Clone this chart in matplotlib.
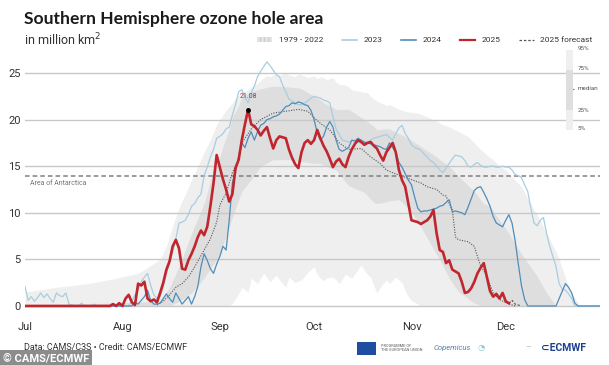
import matplotlib.pyplot as plt
import numpy as np
from matplotlib.lines import Line2D
from matplotlib.patches import Patch, Rectangle

plt.rcParams['font.family'] = ['Roboto', 'DejaVu Sans']

# days counted from 1 July, area in million km2
month_days = [0, 31, 62, 92, 123, 153]
month_labels = ['Jul', 'Aug', 'Sep', 'Oct', 'Nov', 'Dec']
antarctica_area = 14.0

# 1979-2022 percentiles
band_days = [0, 10, 20, 28, 36, 43, 45, 46, 48, 49, 51, 53, 56, 57, 59, 60, 61, 62, 63, 64, 65, 66, 67, 68, 69,
             71, 72, 74, 75, 76, 77, 78, 79, 80, 81, 82, 83, 84, 86, 87, 88, 90, 92, 93, 94, 95, 96, 98, 99, 100,
             102, 103, 104, 107, 108, 109, 110, 111, 112, 113, 114, 115, 116, 118, 119, 120, 121, 122, 123, 125,
             126, 130, 131, 132, 135, 138, 141, 143, 145, 146, 148, 149, 151, 153, 154, 158, 162, 163, 166, 169,
             170, 173, 176, 177, 183]
p95 = [1.5, 2.0, 2.4, 2.9, 3.5, 5.0, 6.4, 7.5, 9.6, 10.5, 12.0, 13.5, 15.7, 16.5, 17.8, 18.6, 19.5, 20.0, 20.5,
       21.0, 21.4, 21.8, 22.3, 22.6, 22.9, 23.2, 23.5, 23.9, 24.2, 24.5, 24.7, 24.6, 24.8, 24.9, 24.7, 24.9, 25.0,
       24.8, 24.6, 24.9, 24.8, 24.5, 24.7, 24.4, 24.6, 24.5, 24.3, 24.5, 24.0, 23.8, 23.7, 23.5, 23.2, 23.0, 22.9,
       22.9, 22.5, 22.2, 22.0, 21.8, 21.7, 21.5, 21.6, 21.3, 21.1, 21.0, 20.9, 20.8, 20.8, 20.7, 20.6, 20.0, 19.9,
       19.6, 19.2, 18.7, 18.2, 17.5, 16.8, 16.5, 15.9, 15.7, 15.0, 14.6, 14.2, 12.8, 10.3, 9.8, 7.8, 5.8, 5.0, 2.0,
       0.3, 0.0, 0.0]
p05 = [0, 0, 0, 0, 0, 0, 0, 0, 0, 0, 0, 0, 0, 0, 0, 0, 0, 0, 0, 0, 0, 0.3, 0.8, 1.3, 2.0, 1.5, 3.0, 2.4, 3.0, 3.5,
       3.0, 2.6, 3.0, 3.3, 2.8, 2.4, 2.0, 3.1, 2.5, 2.7, 2.8, 3.6, 4.2, 3.4, 3.0, 2.7, 3.0, 3.1, 2.8, 2.4, 3.4, 3.2,
       3.0, 4.4, 3.8, 3.4, 3.1, 2.2, 1.4, 2.0, 2.4, 2.8, 2.4, 3.1, 2.8, 2.5, 1.6, 1.0, 0.6, 0.2, 0, 0, 0, 0, 0, 0,
       0, 0, 0, 0, 0, 0, 0, 0, 0, 0, 0, 0, 0, 0, 0, 0, 0, 0, 0]
inner_days = [0, 43, 46, 49, 53, 57, 60, 62, 63, 65, 66, 68, 69, 72, 74, 75, 79, 84, 87, 88, 92, 94, 95, 99, 103,
              108, 111, 112, 114, 116, 119, 122, 126, 131, 132, 135, 138, 143, 145, 146, 148, 151, 154, 158, 163,
              166, 169, 183]
p75 = [0, 0.5, 2.0, 4.2, 7.8, 11.0, 14.6, 16.0, 17.1, 19.0, 20.3, 21.5, 22.5, 23.0, 23.2, 23.3, 23.6, 23.5, 23.4,
       23.3, 22.5, 22.1, 21.8, 21.1, 21.1, 20.0, 19.3, 18.9, 19.0, 19.0, 18.5, 18.0, 17.1, 16.0, 15.7, 15.0, 13.9,
       12.3, 11.4, 11.0, 10.7, 9.2, 7.8, 5.6, 3.2, 1.4, 0, 0]
p25 = [0, 0, 0, 0.5, 1.4, 3.0, 4.5, 5.6, 6.5, 8.5, 9.5, 11.4, 12.3, 13.6, 14.5, 15.0, 15.7, 15.7, 15.5, 15.5,
       15.3, 15.3, 15.1, 14.6, 12.9, 12.2, 11.1, 11.0, 11.1, 11.3, 11.4, 10.5, 8.5, 5.5, 5.0, 3.0, 1.5, 0.3, 0.1,
       0, 0, 0, 0, 0, 0, 0, 0, 0]
median_days = [42, 44, 46, 48, 50, 52, 54, 56, 58, 59, 61, 62, 63, 64, 66, 68, 69, 72, 75, 79, 83, 87, 90, 92, 94,
               97, 100, 103, 107, 110, 113, 115, 117, 121, 126, 128, 131, 133, 134, 135, 136, 137, 138, 141, 143,
               144, 145, 147, 149, 151, 154, 156]
median = [0.1, 0.5, 1.2, 2.0, 2.4, 3.1, 4.2, 5.4, 6.6, 7.2, 9.0, 10.8, 11.5, 12.1, 14.3, 15.8, 17.5, 19.0, 20.0,
          20.7, 20.9, 21.1, 20.9, 20.2, 19.6, 18.9, 17.5, 16.8, 16.9, 16.0, 15.3, 14.6, 14.3, 13.8, 13.2, 12.8, 12.5,
          11.9, 11.8, 11.0, 10.3, 7.4, 7.1, 6.9, 6.4, 5.3, 4.3, 3.2, 1.4, 0.7, 0.2, 0.0]

days_2023 = list(range(0, 24)) + [33] + list(range(34, 176)) + [183]
area_2023 = [2.1, 0.6, 1.0, 0.5, 0.9, 1.4, 0.9, 1.3, 0.8, 0.4, 1.4, 1.1, 1.0, 1.4, 0.2, 0.1, 0, 0, 0.3, 0, 0, 0,
             0.2, 0,
             0,
             0.5, 1.2, 1.7, 2.6, 3.1, 3.5, 2.2, 1.2, 0.8, 1.0, 2.0, 3.5, 4.5, 5.8, 7.2, 8.9, 9.0, 9.2, 9.8, 10.7,
             11.0, 11.6, 12.0, 14.0, 14.9, 16.0, 16.8, 18.0, 18.2, 18.5, 19.0, 19.2, 20.5, 21.6, 23.0, 23.2, 22.4,
             21.8, 22.9, 23.6, 24.6, 25.2, 25.7, 26.2, 25.8, 25.3, 24.8, 24.6, 23.7, 23.0, 22.2, 22.0, 21.8, 21.6,
             21.6, 21.8, 22.0, 22.3, 22.5, 22.4, 22.3, 22.1, 22.0, 21.8, 20.3, 19.0, 18.4, 17.8, 17.7, 17.6, 17.7,
             17.8, 17.6, 17.5, 17.5, 17.6, 17.8, 18.0, 18.1, 18.2, 18.3, 18.4, 18.1, 17.8, 18.5, 19.1, 19.4, 18.5,
             18.0, 17.3, 17.0, 16.9, 16.7, 16.3, 16.0, 15.6, 15.4, 15.0, 14.6, 14.3, 14.8, 15.3, 15.8, 16.2, 16.1,
             16.0, 15.6, 15.0, 14.9, 15.2, 15.4, 15.1, 14.9, 14.9, 15.0, 15.0, 14.9, 14.9, 15.0, 14.9, 14.9, 14.6,
             14.1, 14.0, 13.8, 13.0, 12.3, 10.5, 8.9, 8.6, 9.2, 9.5, 7.8, 6.4, 5.3, 4.2, 2.4, 1.8, 1.7, 1.3, 0.8, 0,
             0]

days_2024 = [0] + list(range(34, 161)) + list(range(169, 177)) + [183]
area_2024 = [0,
             0, 0.4, 0.2, 0.6, 1.0, 1.7, 0.6, 0.2, 0.2, 0.3, 0.8, 1.3, 0.8, 0.4, 1.4, 0.8, 0.2, 0.6, 1.0, 0.2, 1.0,
             2.1, 4.2, 5.6, 4.9, 4.0, 3.5, 4.5, 5.3, 6.4, 6.0, 9.2, 13.2, 14.5, 16.0, 17.5, 17.0, 18.0, 18.7, 17.8,
             18.7, 19.4, 19.6, 20.0, 20.1, 20.3, 20.4, 20.6, 21.0, 21.4, 21.5, 21.8, 21.7, 21.9, 21.8, 21.6, 21.5,
             21.0, 20.0, 18.6, 17.8, 18.2, 19.2, 19.8, 19.2, 17.8, 16.8, 16.6, 16.8, 17.0, 17.8, 17.7, 18.0, 17.8,
             17.6, 17.5, 17.4, 17.3, 17.2, 17.1, 16.9, 16.8, 17.5, 17.0, 16.5, 15.4, 14.9, 14.2, 13.5, 13.0, 11.7,
             10.5, 10.1, 10.2, 10.2, 10.3, 10.4, 10.5, 10.7, 10.8, 11.1, 11.4, 10.1, 10.2, 10.1, 10.0, 9.8, 10.6,
             11.5, 12.4, 12.7, 12.8, 12.2, 11.5, 10.7, 9.6, 8.9, 8.7, 8.5, 9.2, 9.8, 8.9, 7.0, 4.5, 2.2, 0.7, 0,
             0, 0.8, 1.6, 2.4, 2.0, 1.4, 0.3, 0,
             0]

days_2025 = [0] + list(range(27, 155))
area_2025 = [0,
             0, 0.2, 0, 0.3, 0, 0.8, 1.2, 0.4, 0.1, 2.4, 2.2, 2.6, 0.8, 0.5, 0.7, 0.4, 1.4, 2.5, 3.9, 4.8, 6.4, 7.1,
             6.2, 4.0, 3.9, 4.9, 5.6, 6.4, 7.4, 8.1, 7.6, 8.5, 10.7, 13.2, 16.2, 14.9, 13.6, 12.5, 11.2, 12.0, 14.8,
             15.7, 17.8, 19.5, 21.08, 19.5, 19.3, 18.9, 18.3, 18.8, 19.2, 18.0, 16.9, 17.8, 18.2, 18.1, 18.0, 16.8,
             15.9, 15.2, 14.8, 16.5, 17.5, 17.8, 17.4, 17.8, 18.9, 18.0, 17.2, 16.6, 15.8, 14.9, 15.5, 15.8, 15.2,
             14.9, 16.0, 16.8, 17.4, 17.8, 17.6, 17.3, 17.5, 17.6, 17.2, 16.9, 16.2, 15.6, 16.5, 17.0, 17.5, 16.5,
             14.6, 13.5, 12.8, 11.0, 9.2, 9.1, 9.0, 8.8, 9.0, 9.2, 9.6, 10.3, 7.8, 6.0, 5.8, 4.6, 4.9, 3.9, 3.7, 3.5,
             2.6, 1.4, 1.5, 1.9, 2.6, 3.5, 4.1, 4.6, 3.1, 1.6, 1.0, 1.3, 0.8, 1.4, 0.5, 0.3]
peak_day, peak_value = 71, 21.08

days_forecast = [154, 155, 156, 157, 158]
area_forecast = [0.3, 0.6, 0.2, 0.1, 0.0]

c_2023 = '#a9cde0'
c_2024 = '#4f8dba'
c_2025 = '#c1252d'
c_text = '#333333'

fig = plt.figure(figsize=(6.09, 3.65), dpi=100)
ax = fig.add_axes([25 / 609, 1 - 309.7 / 365, 575 / 609, 255.3 / 365])

ax.fill_between(band_days, p05, p95, color='#efefef', lw=0, zorder=0.2)
ax.fill_between(inner_days, p25, p75, color='#dedede', lw=0, zorder=0.3)

ax.axhline(antarctica_area, color='#808080', lw=1.1, ls=(0, (3, 2)), zorder=1)
ax.text(1.5, antarctica_area - 0.9, 'Area of Antarctica', fontsize=5, color='#777777', va='center')

ax.plot(median_days, median, color='#555555', lw=0.8, ls=(0, (1, 1.3)), zorder=2)
ax.plot(days_2023, area_2023, color=c_2023, lw=0.9, zorder=3)
ax.plot(days_2024, area_2024, color=c_2024, lw=0.9, zorder=4)
ax.plot(days_forecast, area_forecast, color='#555555', lw=0.8, ls=(0, (2, 1.5)), zorder=4.5)
ax.plot(days_2025, area_2025, color=c_2025, lw=1.9, zorder=5, solid_joinstyle='round')

ax.plot([peak_day], [peak_value], 'o', color='black', ms=2.5, zorder=6)
ax.annotate(f'{peak_value:.2f}', (peak_day, peak_value), xytext=(0, 7), textcoords='offset points',
            ha='center', va='bottom', fontsize=5, color=c_2025)

ax.set_xlim(0, 183)
ax.set_ylim(-0.4, 27)
ax.set_yticks(np.arange(0, 26, 5))
ax.set_xticks(month_days)
ax.set_xticklabels(month_labels)
ax.yaxis.grid(True, color='#c8c8c8', lw=1.0)
ax.set_axisbelow(True)
ax.tick_params(length=0, labelsize=8, labelcolor=c_text)
ax.tick_params(axis='y', pad=3)
ax.tick_params(axis='x', pad=9)
for s in ax.spines.values():
    s.set_visible(False)

fig.text(24 / 609, 1 - 19 / 365, 'Southern Hemisphere ozone hole area', fontsize=12.6, weight='bold',
         family=['Lato', 'DejaVu Sans'], color='#1a1a1a', va='center')
fig.text(24 / 609, 1 - 40 / 365, 'in million km$^2$', fontsize=9, color=c_text, va='center')

handles = [Patch(facecolor='#e4e4e4', edgecolor='#cfcfcf', hatch='||||', lw=0),
           Line2D([], [], color=c_2023, lw=1.2),
           Line2D([], [], color=c_2024, lw=1.2),
           Line2D([], [], color=c_2025, lw=1.6),
           Line2D([], [], color='#555555', lw=0.9, ls=(0, (2, 1.5)))]
labels = ['1979 - 2022', '2023', '2024', '2025', '2025 forecast']
leg = ax.legend(handles, labels, ncol=5, frameon=False, fontsize=6, handlelength=1.8, handleheight=0.7,
                columnspacing=2.2, handletextpad=0.8, loc='center right',
                bbox_to_anchor=(600 / 609, 1 - 40 / 365), bbox_transform=fig.transFigure)
for t in leg.get_texts():
    t.set_color(c_text)

# percentile key on the right
fig.patches.append(Rectangle((566 / 609, 1 - 130 / 365), 7 / 609, 80 / 365, transform=fig.transFigure,
                             facecolor='#efefef', lw=0, zorder=3))
fig.patches.append(Rectangle((566 / 609, 1 - 110 / 365), 7 / 609, 40 / 365, transform=fig.transFigure,
                             facecolor='#dedede', lw=0, zorder=3))
fig.lines.append(Line2D([566 / 609, 574 / 609], [1 - 89 / 365] * 2, transform=fig.transFigure,
                        color='#666666', lw=0.8, ls=(0, (2, 1))))
for lab, ypx in zip(['95%', '75%', 'median', '25%', '5%'], [49, 69, 89, 110, 129]):
    fig.text(578 / 609, 1 - ypx / 365, lab, fontsize=4.5, color='#555555', va='center')

# footer
fig.text(24 / 609, 1 - 348 / 365, 'Data: CAMS/C3S \u2022 Credit: CAMS/ECMWF', fontsize=6.5, color=c_text,
         va='center')
fig.text(3 / 609, 1 - 358 / 365, '\u00a9 CAMS/ECMWF', fontsize=8, weight='bold', color='white', va='center',
         bbox=dict(boxstyle='square,pad=0.25', facecolor='#8c8c8c', edgecolor='none'))
fig.patches.append(Rectangle((357 / 609, 1 - 355 / 365), 19 / 609, 13 / 365, transform=fig.transFigure,
                             facecolor='#1f4ea0', lw=0))
fig.text(381 / 609, 1 - 348 / 365, 'PROGRAMME OF\nTHE EUROPEAN UNION', fontsize=2.8, color='#555555',
         va='center', linespacing=1.1)
fig.text(434 / 609, 1 - 348 / 365, 'Copernicus', fontsize=5.5, style='italic', color='#5a7fa3', va='center')
fig.text(478 / 609, 1 - 348 / 365, '\u25d4 ', fontsize=6, color='#8fc6d8', va='center')
fig.text(525 / 609, 1 - 348 / 365, '\u2014', fontsize=5, color='#aaaaaa', va='center')
fig.text(541 / 609, 1 - 348 / 365, '\u2282ECMWF', fontsize=7.5, weight='bold', color='#1d3f8f', va='center')

fig.savefig('out.png', dpi=100)
